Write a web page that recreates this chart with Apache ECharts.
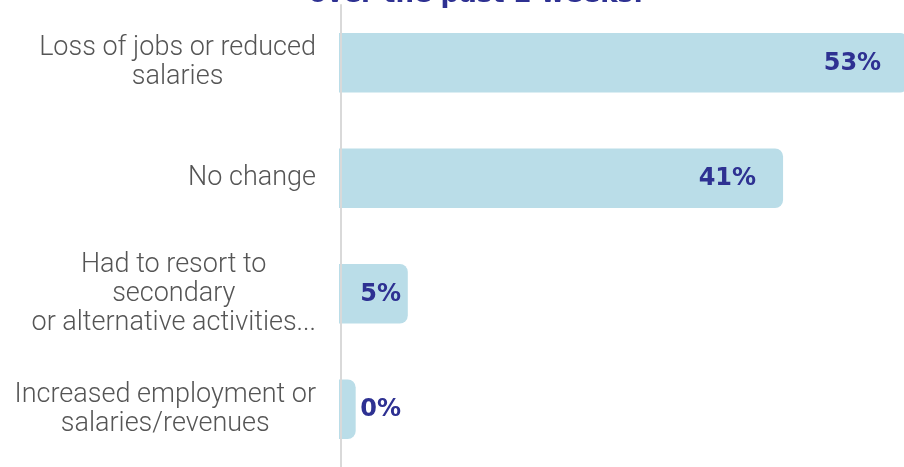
<!DOCTYPE html>
<html>
<head>
<meta charset="utf-8">
<script src="https://cdn.jsdelivr.net/npm/echarts@6/dist/echarts.min.js"></script>
<style>
  html, body { margin: 0; padding: 0; background: #fff; }
  #chart { width: 904px; height: 467px; }
</style>
</head>
<body>
<div id="chart"></div>
<script>
const TITLE = 'over the past 2 weeks:'
const CATEGORIES = [
  'Loss of jobs or reduced\nsalaries',
  'No change',
  'Had to resort to\nsecondary\nor alternative activities...',
  'Increased employment or\nsalaries/revenues'
]
const VALUES = [53, 41, 5, 0]

const BAR_COLOR = '#badde8'
const LABEL_COLOR = '#2e3192'
const X_MIN = -1.6
const X_MAX = 52.6

const chart = echarts.init(document.getElementById('chart'))

function renderItem(params, api) {
  const start = api.coord([X_MIN, api.value(1)])
  const end = api.coord([api.value(0), api.value(1)])
  const h = api.size([0, 1])[1] * 0.515
  const labelRight = Math.max(end[0] - 27, start[0] + 62)
  return {
    type: 'group',
    children: [
      {
        type: 'rect',
        shape: { x: start[0], y: start[1] - h / 2, width: end[0] - start[0], height: h, r: [0, 8, 8, 0] },
        style: { fill: BAR_COLOR }
      },
      {
        type: 'text',
        style: {
          text: api.value(0) + '%',
          x: labelRight,
          y: start[1] + 1,
          align: 'right',
          verticalAlign: 'middle',
          fill: LABEL_COLOR,
          font: 'bold 24px "DejaVu Sans"'
        }
      }
    ]
  }
}

chart.setOption({
  animation: false,
  graphic: [{
    type: 'text',
    x: 476,
    y: -5,
    style: {
      text: TITLE,
      align: 'center',
      verticalAlign: 'middle',
      fill: LABEL_COLOR,
      font: 'bold 26px "DejaVu Sans"'
    }
  }],
  grid: { left: 339, top: 5, right: 0, height: 466 },
  xAxis: {
    type: 'value',
    min: X_MIN,
    max: X_MAX,
    show: false
  },
  yAxis: {
    type: 'category',
    inverse: true,
    data: CATEGORIES,
    z: 5,
    offset: -1.5,
    axisLine: { show: true, onZero: false, lineStyle: { color: '#d9d9d9', width: 2 } },
    axisTick: { show: false },
    splitLine: { show: false },
    axisLabel: {
      margin: 24.5,
      color: '#555555',
      fontFamily: 'Roboto',
      fontWeight: 300,
      fontSize: 27,
      lineHeight: 29,
      formatter: v => v.split('\n').map(s => '{c|' + s + '}').join('\n'),
      rich: {
        c: {
          align: 'center',
          color: '#555555',
          fontFamily: 'Roboto',
          fontWeight: 300,
          fontSize: 27,
          lineHeight: 29
        }
      }
    }
  },
  series: [{
    type: 'custom',
    renderItem: renderItem,
    clip: false,
    encode: { x: 0, y: 1 },
    data: VALUES.map((v, i) => [v, i])
  }]
})
</script>
</body>
</html>
